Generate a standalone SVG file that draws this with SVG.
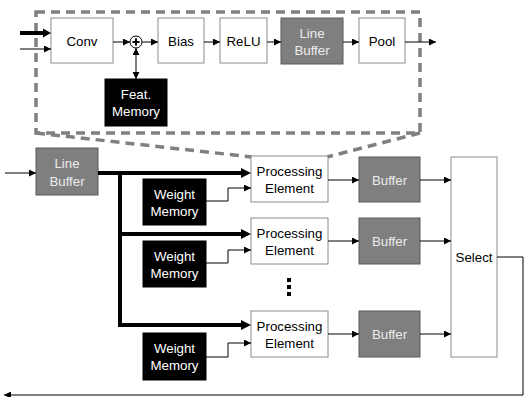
<svg xmlns="http://www.w3.org/2000/svg" width="528" height="397" viewBox="0 0 528 397">
  <defs>
    <marker id="arrs" viewBox="0 0 10 10" refX="10" refY="5" markerWidth="9" markerHeight="7" markerUnits="userSpaceOnUse" orient="auto-start-reverse">
      <path d="M0,0 L10,5 L0,10 z" fill="#000"/>
    </marker>
  </defs>
  <style>
    text { font-family: "Liberation Sans", Arial, sans-serif; font-size: 13.3px; text-anchor: middle; dominant-baseline: central; }
    .white { fill: #fff; stroke: #8c8c8c; stroke-width: 1; }
    .gray { fill: #7f7f7f; stroke: #5a5a5a; stroke-width: 1; }
    .black { fill: #000; stroke: #000; stroke-width: 1; }
    .dark { fill: #000; }
    .light { fill: #ececec; }
    .inv { fill: #fff; }
    .thin { fill: none; stroke: #000; stroke-width: 1; }
    .thick { fill: none; stroke: #000; stroke-width: 4; }
    .dash { fill: none; stroke: #808080; stroke-width: 3.5; stroke-dasharray: 9 6; }
  </style>

  <rect width="528" height="397" fill="#fff"/>

  <!-- zoomed-in detail outline of a processing element -->
  <g id="detail-outline">
    <rect class="dash" x="36" y="12" width="384" height="121"/>
    <path class="dash" d="M36,133 L252,157"/>
    <path class="dash" d="M420,133 L327,157"/>
  </g>

  <!-- detail pipeline nodes -->
  <g id="conv">
    <rect class="white" x="51" y="18" width="62" height="45"/>
    <text class="dark" x="82" y="41">Conv</text>
  </g>
  <g id="adder">
    <circle cx="136" cy="42" r="6" fill="#fff" stroke="#000" stroke-width="1"/>
    <path d="M132.5,42 H139.5 M136,38.5 V45.5" stroke="#000" stroke-width="2"/>
  </g>
  <g id="bias">
    <rect class="white" x="158" y="18" width="46" height="45"/>
    <text class="dark" x="181" y="41">Bias</text>
  </g>
  <g id="relu">
    <rect class="white" x="220" y="18" width="47" height="45"/>
    <text class="dark" x="243.5" y="41">ReLU</text>
  </g>
  <g id="detail-line-buffer">
    <rect class="gray" x="281" y="18" width="62" height="46"/>
    <text class="light" x="312" y="33">Line</text>
    <text class="light" x="312" y="50">Buffer</text>
  </g>
  <g id="pool">
    <rect class="white" x="359" y="18" width="46" height="45"/>
    <text class="dark" x="382" y="41">Pool</text>
  </g>
  <g id="feat-memory">
    <rect class="black" x="105" y="79" width="62" height="47"/>
    <text class="inv" x="136" y="94">Feat.</text>
    <text class="inv" x="136" y="111">Memory</text>
  </g>

  <!-- top-level nodes -->
  <g id="line-buffer">
    <rect class="gray" x="36" y="148" width="62" height="47"/>
    <text class="light" x="67" y="163">Line</text>
    <text class="light" x="67" y="181">Buffer</text>
  </g>

  <g id="pe-1">
    <rect class="white" x="251" y="156" width="77" height="46"/>
    <text class="dark" x="289.5" y="171">Processing</text>
    <text class="dark" x="289.5" y="188">Element</text>
  </g>
  <g id="pe-2">
    <rect class="white" x="251" y="218" width="77" height="46"/>
    <text class="dark" x="289.5" y="233">Processing</text>
    <text class="dark" x="289.5" y="250">Element</text>
  </g>
  <g id="pe-3">
    <rect class="white" x="251" y="311" width="77" height="46"/>
    <text class="dark" x="289.5" y="326">Processing</text>
    <text class="dark" x="289.5" y="343">Element</text>
  </g>

  <g id="weight-memory-1">
    <rect class="black" x="143" y="179" width="63" height="46"/>
    <text class="inv" x="174.5" y="194">Weight</text>
    <text class="inv" x="174.5" y="211">Memory</text>
  </g>
  <g id="weight-memory-2">
    <rect class="black" x="143" y="241" width="63" height="46"/>
    <text class="inv" x="174.5" y="256">Weight</text>
    <text class="inv" x="174.5" y="273">Memory</text>
  </g>
  <g id="weight-memory-3">
    <rect class="black" x="143" y="333" width="63" height="47"/>
    <text class="inv" x="174.5" y="348">Weight</text>
    <text class="inv" x="174.5" y="365">Memory</text>
  </g>

  <g id="buffer-1">
    <rect class="gray" x="359" y="157" width="61" height="45"/>
    <text class="light" x="389.5" y="180">Buffer</text>
  </g>
  <g id="buffer-2">
    <rect class="gray" x="359" y="218" width="61" height="46"/>
    <text class="light" x="389.5" y="241">Buffer</text>
  </g>
  <g id="buffer-3">
    <rect class="gray" x="359" y="311" width="61" height="46"/>
    <text class="light" x="389.5" y="334">Buffer</text>
  </g>

  <g id="select">
    <rect class="white" x="451" y="157" width="46" height="200"/>
    <text class="dark" x="474" y="257">Select</text>
  </g>

  <g id="ellipsis">
    <rect x="287" y="278" width="4" height="4" fill="#000"/>
    <rect x="287" y="285" width="4" height="4" fill="#000"/>
    <rect x="287" y="292" width="4" height="4" fill="#000"/>
  </g>

  <!-- connectors -->
  <g id="connectors">
    <!-- detail pipeline -->
    <path class="thick" d="M20,33 H44" stroke-width="3.5"/>
    <path d="M43,28.5 L51,33 L43,37.5 z" fill="#000"/>
    <path class="thin" d="M20,49 H51" marker-end="url(#arrs)"/>
    <path class="thin" d="M113,42 H130" marker-end="url(#arrs)"/>
    <path class="thin" d="M142,42 H158" marker-end="url(#arrs)"/>
    <path class="thin" d="M204,42 H220" marker-end="url(#arrs)"/>
    <path class="thin" d="M267,42 H281" marker-end="url(#arrs)"/>
    <path class="thin" d="M343,42 H359" marker-end="url(#arrs)"/>
    <path class="thin" d="M405,42 H436" marker-end="url(#arrs)"/>
    <path class="thin" d="M136,48 V79" marker-start="url(#arrs)" marker-end="url(#arrs)"/>

    <!-- input into line buffer -->
    <path class="thin" d="M5,173 H36" marker-end="url(#arrs)"/>

    <!-- thick fan-out bus -->
    <path class="thick" d="M98,173 H242"/>
    <path class="thick" d="M120,173 V325 H242"/>
    <path class="thick" d="M120,234 H242"/>
    <path d="M241,168 L251,173 L241,178 z" fill="#000"/>
    <path d="M241,229 L251,234 L241,239 z" fill="#000"/>
    <path d="M241,320 L251,325 L241,330 z" fill="#000"/>

    <!-- weight memories into PEs -->
    <path class="thin" d="M206,201 H228 V188 H251" marker-end="url(#arrs)"/>
    <path class="thin" d="M206,263 H228 V250 H251" marker-end="url(#arrs)"/>
    <path class="thin" d="M206,357 H228 V343 H251" marker-end="url(#arrs)"/>

    <!-- PE to buffer -->
    <path class="thin" d="M328,180 H359" marker-end="url(#arrs)"/>
    <path class="thin" d="M328,241 H359" marker-end="url(#arrs)"/>
    <path class="thin" d="M328,334 H359" marker-end="url(#arrs)"/>

    <!-- buffer to select -->
    <path class="thin" d="M420,180 H451" marker-end="url(#arrs)"/>
    <path class="thin" d="M420,241 H451" marker-end="url(#arrs)"/>
    <path class="thin" d="M420,334 H451" marker-end="url(#arrs)"/>

    <!-- feedback from select -->
    <path class="thin" d="M497,257 H523 V395 H4" marker-end="url(#arrs)"/>
  </g>
</svg>
